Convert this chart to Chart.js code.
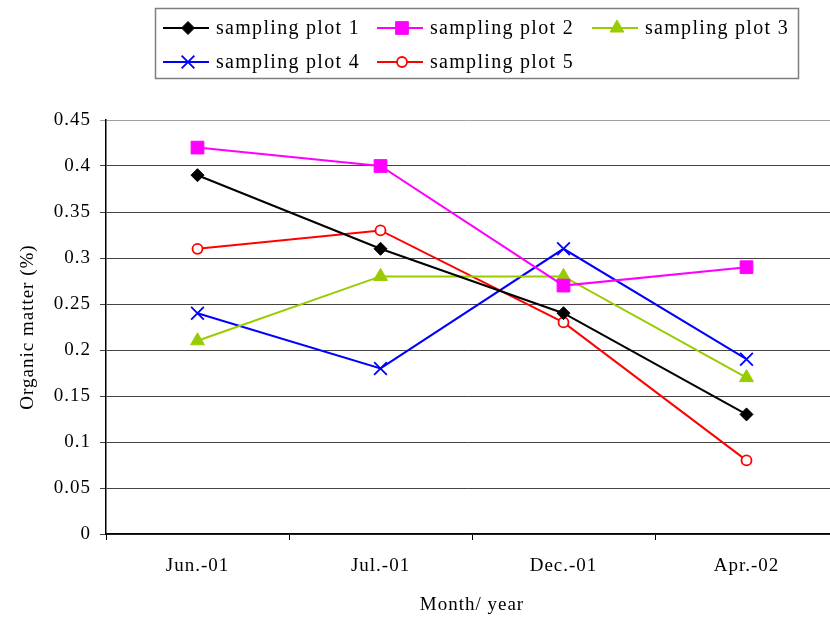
<!DOCTYPE html>
<html>
<head>
<meta charset="utf-8">
<script src="https://cdn.jsdelivr.net/npm/chart.js@4/dist/chart.umd.min.js"></script>
<style>
  html, body { margin: 0; padding: 0; background: #fff; overflow: hidden; }
  #wrap { width: 830px; height: 621px; position: relative; }
  canvas { display: block; }
</style>
</head>
<body>
<div id="wrap"><canvas id="c" width="830" height="621"></canvas></div>
<script>
// Sampling dates
const months = ['Jun.-01', 'Jul.-01', 'Dec.-01', 'Apr.-02'];

// Organic matter (%) per sampling plot
const plot1 = [0.39, 0.31, 0.24, 0.13];
const plot2 = [0.42, 0.40, 0.27, 0.29];
const plot3 = [0.21, 0.28, 0.28, 0.17];
const plot4 = [0.24, 0.18, 0.31, 0.19];
const plot5 = [0.31, 0.33, 0.23, 0.08];

const seriesNames = ['sampling plot 1', 'sampling plot 2', 'sampling plot 3', 'sampling plot 4', 'sampling plot 5'];

const yMin = 0, yMax = 0.45, yStep = 0.05;

const FONT = '"Liberation Serif", "Times New Roman", serif';
const SPACING = '1px';

const styles = [
  { color: '#000000', pointStyle: 'rectRot', radius: 6.5, fill: '#000000', bw: 1 },
  { color: '#FF00FF', pointStyle: 'rect', radius: 9, fill: '#FF00FF', bw: 1 },
  { color: '#99CC00', pointStyle: 'triangle', radius: 8, fill: '#99CC00', bw: 1 },
  { color: '#0000FF', pointStyle: 'crossRot', radius: 9, fill: '#0000FF', bw: 1.8 },
  { color: '#FF0000', pointStyle: 'circle', radius: 5, fill: '#FFFFFF', bw: 1.8 }
];

const values = [plot1, plot2, plot3, plot4, plot5];

const datasets = values.map((v, i) => ({
  label: seriesNames[i],
  data: v,
  borderColor: styles[i].color,
  backgroundColor: styles[i].fill,
  borderWidth: 2,
  pointStyle: styles[i].pointStyle,
  pointRadius: styles[i].radius,
  pointHoverRadius: styles[i].radius,
  pointBackgroundColor: styles[i].fill,
  pointBorderColor: styles[i].color,
  pointBorderWidth: styles[i].bw,
  tension: 0,
  fill: false,
  clip: false
}));

// Widen glyph spacing slightly for every text the chart draws or measures
const spacingPlugin = {
  id: 'spacing',
  beforeUpdate(chart) { chart.ctx.letterSpacing = SPACING; },
  beforeDraw(chart) { chart.ctx.letterSpacing = SPACING; }
};

// The plot area runs on a few pixels past the right edge of the canvas
const PLOT_OVERHANG = 8;
const overhangPlugin = {
  id: 'overhang',
  afterLayout(chart) {
    const area = chart.chartArea;
    area.right += PLOT_OVERHANG;
    area.width = area.right - area.left;
    const x = chart.scales.x;
    x.right += PLOT_OVERHANG;
    x.width = x.right - x.left;
    x.configure();
  }
};

// Boxed legend: three entries per row, each a line sample with its marker
const boxLegend = {
  id: 'boxLegend',
  afterDraw(chart) {
    const ctx = chart.ctx;
    const cols = [163, 377, 592];
    const rows = [28, 62];
    ctx.save();
    ctx.strokeStyle = '#7f7f7f';
    ctx.lineWidth = 1.5;
    ctx.strokeRect(155.5, 8.5, 643, 70);
    ctx.font = '20px ' + FONT;
    ctx.letterSpacing = '1.3px';
    ctx.textBaseline = 'middle';
    ctx.textAlign = 'left';
    chart.data.datasets.forEach((ds, i) => {
      const x = cols[i % 3];
      const y = rows[Math.floor(i / 3)];
      ctx.strokeStyle = ds.borderColor;
      ctx.lineWidth = 2;
      ctx.beginPath();
      ctx.moveTo(x, y);
      ctx.lineTo(x + 46, y);
      ctx.stroke();
      ctx.fillStyle = ds.pointBackgroundColor;
      ctx.strokeStyle = ds.pointBorderColor;
      ctx.lineWidth = ds.pointBorderWidth;
      Chart.helpers.drawPoint(ctx, {
        pointStyle: ds.pointStyle,
        radius: ds.pointRadius,
        rotation: 0,
        borderWidth: ds.pointBorderWidth
      }, x + 25, y);
      ctx.fillStyle = '#000';
      ctx.fillText(ds.label, x + 53, y + 1);
    });
    ctx.restore();
  }
};

new Chart(document.getElementById('c'), {
  type: 'line',
  data: { labels: months, datasets },
  plugins: [spacingPlugin, overhangPlugin, boxLegend],
  options: {
    responsive: false,
    animation: false,
    events: [],
    layout: { autoPadding: false, padding: { top: 120, left: 0, right: 0, bottom: 0 } },
    plugins: {
      legend: { display: false },
      tooltip: { enabled: false },
      title: { display: false }
    },
    scales: {
      x: {
        type: 'category',
        offset: true,
        afterFit(scale) {
          scale.height = 87;
          scale.paddingLeft = 0;
          scale.paddingRight = 0;
        },
        grid: {
          display: true,
          offset: true,
          drawOnChartArea: false,
          drawTicks: true,
          tickLength: 6,
          color: '#000',
          lineWidth: 1
        },
        border: { display: true, color: '#000', width: 1.5 },
        ticks: {
          color: '#000',
          font: { family: FONT, size: 19 },
          padding: 15,
          maxRotation: 0,
          autoSkip: false
        },
        title: {
          display: true,
          text: 'Month/ year',
          color: '#000',
          font: { family: FONT, size: 19 },
          padding: { top: 0, bottom: 5 }
        }
      },
      y: {
        min: yMin,
        max: yMax,
        afterFit(scale) { scale.width = 106; },
        grid: {
          color: (c) => (c.tick && Math.abs(c.tick.value - yMax) < 1e-9) ? '#a0a0a0' : '#444',
          lineWidth: 1,
          drawTicks: true,
          tickLength: 6
        },
        border: { display: true, color: '#000', width: 1.5 },
        ticks: {
          stepSize: yStep,
          color: '#000',
          font: { family: FONT, size: 19 },
          padding: 9,
          callback: (v) => String(+Number(v).toFixed(2))
        },
        title: {
          display: true,
          text: 'Organic matter (%)',
          color: '#000',
          font: { family: FONT, size: 19 },
          padding: { top: 17, bottom: 0 }
        }
      }
    }
  }
});
</script>
</body>
</html>
